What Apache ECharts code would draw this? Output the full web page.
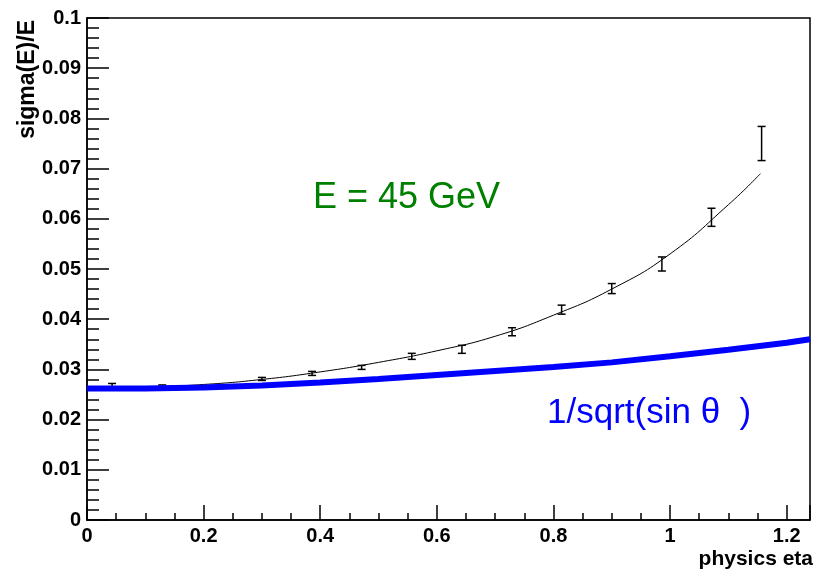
<!DOCTYPE html>
<html>
<head>
<meta charset="utf-8">
<script src="https://cdn.jsdelivr.net/npm/echarts@6/dist/echarts.min.js"></script>
<style>
  html, body { margin: 0; padding: 0; background: #fff; }
  #main { width: 820px; height: 573px; }
</style>
</head>
<body>
<div id="main"></div>
<script>
// measured points (bin centre, sigma(E)/E, error)
var etaBins = [0.043, 0.129, 0.214, 0.300, 0.386, 0.471, 0.557, 0.643, 0.729, 0.814, 0.900, 0.986, 1.071, 1.157]
var sigmaVals = [0.0267, 0.0267, 0.0266, 0.0281, 0.0292, 0.0304, 0.0326, 0.0340, 0.0375, 0.0419, 0.0461, 0.0510, 0.0603, 0.0750]
var sigmaErrs = [0.0005, 0.0002, 0.0002, 0.0003, 0.0004, 0.0004, 0.0006, 0.0008, 0.0008, 0.0009, 0.0010, 0.0014, 0.0018, 0.0034]

// fitted curve
var fitEta = [0, 0.1, 0.2, 0.3, 0.4, 0.5, 0.6, 0.7, 0.8, 0.9, 1.0, 1.1, 1.155]
var fitVals = [0.0263, 0.0265, 0.0270, 0.0280, 0.0295, 0.0314, 0.0337, 0.0366, 0.0408, 0.0460, 0.0530, 0.0628, 0.0690]

// 1/sqrt(sin theta) reference line
var sinEta = [0, 0.1, 0.2, 0.3, 0.4, 0.5, 0.6, 0.7, 0.8, 0.9, 1.0, 1.1, 1.2, 1.24]
var sinVals = [0.0262, 0.0262, 0.0264, 0.0268, 0.0274, 0.0281, 0.0289, 0.0297, 0.0305, 0.0314, 0.0326, 0.0339, 0.0353, 0.0360]

var font = '"Liberation Sans", Arial, Helvetica, sans-serif'

var points = []
for (var i = 0; i < etaBins.length; i++) {
  points.push([etaBins[i], sigmaVals[i], sigmaErrs[i]])
}
var fitData = []
for (var i = 0; i < fitEta.length; i++) {
  fitData.push([fitEta[i], fitVals[i]])
}
var sinData = []
for (var i = 0; i < sinEta.length; i++) {
  sinData.push([sinEta[i], sinVals[i]])
}

var black = { color: '#000', width: 1.5 }
var labelStyle = { color: '#000', fontSize: 20, fontWeight: 'bold', fontFamily: font }

var myChart = echarts.init(document.getElementById('main'))
var option = {
  animation: false,
  grid: {
    left: 87, right: 10, top: 18, bottom: 53,
    show: true, borderColor: '#000', borderWidth: 1.5
  },
  xAxis: [{
    type: 'value', min: 0, max: 1.24, interval: 0.2,
    axisLine: { lineStyle: black },
    axisTick: { inside: true, length: 15, lineStyle: black },
    axisLabel: Object.assign({
      margin: 6,
      formatter: function (v) {
        if (Math.abs(v - 1.24) < 1e-6) return ''
        return String(Math.round(v * 100) / 100)
      }
    }, labelStyle),
    splitLine: { show: false }
  }, {
    // minor ticks every 0.05
    type: 'value', min: 0, max: 1.24, interval: 0.05, position: 'bottom',
    axisLine: { show: false },
    axisTick: { inside: true, length: 7, lineStyle: black },
    axisLabel: { show: false },
    splitLine: { show: false }
  }],
  yAxis: {
    type: 'value', min: 0, max: 0.1, interval: 0.01,
    axisLine: { show: true, lineStyle: black },
    axisTick: { show: true, inside: true, length: 22, lineStyle: black },
    minorTick: { show: true, splitNumber: 5, length: 12, lineStyle: black },
    axisLabel: Object.assign({ margin: 6 }, labelStyle),
    splitLine: { show: false }
  },
  graphic: [
    {
      type: 'text', x: 28, y: 20, rotation: Math.PI / 2,
      style: { text: 'sigma(E)/E', fill: '#000', fontSize: 23, fontWeight: 'bold', fontFamily: font, align: 'right', verticalAlign: 'middle' }
    },
    {
      type: 'text', x: 813, y: 559,
      style: { text: 'physics eta', fill: '#000', fontSize: 21, fontWeight: 'bold', fontFamily: font, align: 'right', verticalAlign: 'middle' }
    },
    {
      type: 'text', x: 313, y: 198,
      style: { text: 'E = 45 GeV', fill: '#008000', fontSize: 36, fontFamily: font, align: 'left', verticalAlign: 'middle' }
    },
    {
      type: 'text', x: 547, y: 413,
      style: { text: '1/sqrt(sin \u03b8  )', fill: '#0000ff', fontSize: 35, fontFamily: font, align: 'left', verticalAlign: 'middle' }
    }
  ],
  series: [
    {
      name: 'fit', type: 'line', data: fitData, smooth: true, showSymbol: false,
      lineStyle: { color: '#000', width: 1 }, z: 2
    },
    {
      name: 'points', type: 'custom', data: points,
      encode: { x: 0, y: 1 }, z: 3,
      renderItem: function (params, api) {
        var x = api.value(0), y = api.value(1), e = api.value(2)
        var hi = api.coord([x, y + e])
        var lo = api.coord([x, y - e])
        var cap = 4
        var st = { stroke: '#000', lineWidth: 1.5 }
        return {
          type: 'group',
          children: [
            { type: 'line', shape: { x1: hi[0], y1: hi[1], x2: lo[0], y2: lo[1] }, style: st },
            { type: 'line', shape: { x1: hi[0] - cap, y1: hi[1], x2: hi[0] + cap, y2: hi[1] }, style: st },
            { type: 'line', shape: { x1: lo[0] - cap, y1: lo[1], x2: lo[0] + cap, y2: lo[1] }, style: st }
          ]
        }
      }
    },
    {
      name: '1/sqrt(sin)', type: 'line', data: sinData, showSymbol: false,
      lineStyle: { color: '#0000ff', width: 6 }, z: 5
    }
  ]
}
myChart.setOption(option)
</script>
</body>
</html>
